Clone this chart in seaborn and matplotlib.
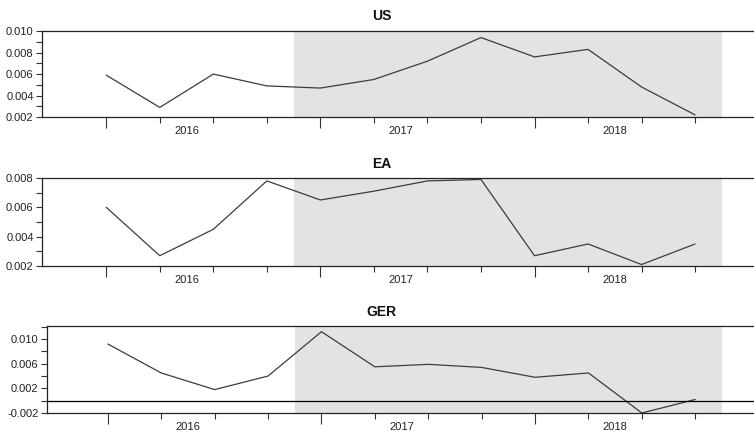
import matplotlib
matplotlib.use("Agg")
import matplotlib.pyplot as plt
import matplotlib.transforms as mtransforms
import seaborn as sns
import pandas as pd
import numpy as np

sns.set_theme(style="white")
plt.rcParams['font.family'] = ['Liberation Sans Narrow', 'Liberation Sans', 'DejaVu Sans']

# quarterly data, 2016Q1 .. 2018Q4
quarters = ['2016Q1', '2016Q2', '2016Q3', '2016Q4',
            '2017Q1', '2017Q2', '2017Q3', '2017Q4',
            '2018Q1', '2018Q2', '2018Q3', '2018Q4']
years = ['2016', '2017', '2018']
us = [0.0059, 0.0029, 0.0060, 0.0049, 0.0047, 0.0055,
      0.0072, 0.0094, 0.0076, 0.0083, 0.0048, 0.0022]
ea = [0.0060, 0.0027, 0.0045, 0.0078, 0.0065, 0.0071,
      0.0078, 0.0079, 0.0027, 0.0035, 0.0021, 0.0035]
ger = [0.0092, 0.0045, 0.0018, 0.0040, 0.0112, 0.0055,
       0.0059, 0.0054, 0.0038, 0.0045, -0.0020, 0.0002]
shade_start, shade_end = '2017Q1', '2018Q4'

df = pd.DataFrame({'quarter': quarters, 'US': us, 'EA': ea, 'GER': ger})
df['t'] = np.arange(len(df))

fig = plt.figure(figsize=(7.54, 4.32), dpi=100)

panels = [
    # name, [left, bottom, width, height], ylim, major step, title y, xlim left
    ('US', [0.0557, 0.729, 0.9443, 0.199], (0.002, 0.010), 0.002, 0.962, -1.2),
    ('EA', [0.0557, 0.3843, 0.9443, 0.2037], (0.002, 0.008), 0.002, 0.62, -1.2),
    ('GER', [0.0623, 0.044, 0.9377, 0.201], (-0.002, 0.0121), 0.004, 0.278, -1.14),
]

for name, rect, ylim, step, ty, xl in panels:
    ax = fig.add_axes(rect)
    i0 = quarters.index(shade_start) - 0.5
    i1 = quarters.index(shade_end) + 0.5
    ax.axvspan(i0, i1, color='#e3e3e3', lw=0, zorder=0)
    sns.lineplot(data=df, x='t', y=name, ax=ax, color='#3c3c3c', lw=0.9)
    if name == 'GER':
        ax.axhline(0, color='black', lw=0.9)

    ax.set_xlim(xl, 12.1)
    ax.set_ylim(*ylim)
    lo = ylim[0]
    major = np.arange(lo, ylim[1] + 1e-9, step)
    ax.set_yticks(major)
    ax.set_yticklabels([f'{v:.3f}' for v in major])
    ax.set_yticks(np.arange(lo + step / 2, ylim[1] + 1e-9, step), minor=True)

    q1 = [i for i, q in enumerate(quarters) if q.endswith('Q1')]
    other = [i for i, q in enumerate(quarters) if not q.endswith('Q1')]
    ax.set_xticks(q1)
    ax.set_xticklabels([''] * len(q1))
    ax.set_xticks(other, minor=True)
    trans = mtransforms.blended_transform_factory(ax.transData, ax.transAxes)
    for k, yr in enumerate(years):
        ax.text(q1[k] + 1.5, -0.1, yr, transform=trans, ha='center', va='top', fontsize=8, color='#222222')

    ax.tick_params(axis='x', which='major', direction='out', length=8, width=0.8, color='#333333', bottom=True)
    ax.tick_params(axis='x', which='minor', direction='out', length=4, width=0.8, color='#333333', bottom=True)
    ax.tick_params(axis='y', which='major', direction='out', length=4, width=0.8, color='#333333', left=True,
                   labelsize=8, pad=2, labelcolor='#222222')
    ax.tick_params(axis='y', which='minor', direction='out', length=4, width=0.8, color='#333333', left=True)

    for s in ['left', 'bottom', 'top']:
        ax.spines[s].set_color('#222222')
        ax.spines[s].set_linewidth(0.9)
    ax.spines['right'].set_visible(False)
    ax.set_xlabel('')
    ax.set_ylabel('')
    ax.set_facecolor('white')

    fig.text(0.506, ty, name, ha='center', va='center', fontsize=10, fontweight='bold', color='#111111')

fig.savefig('out.png', dpi=100)
